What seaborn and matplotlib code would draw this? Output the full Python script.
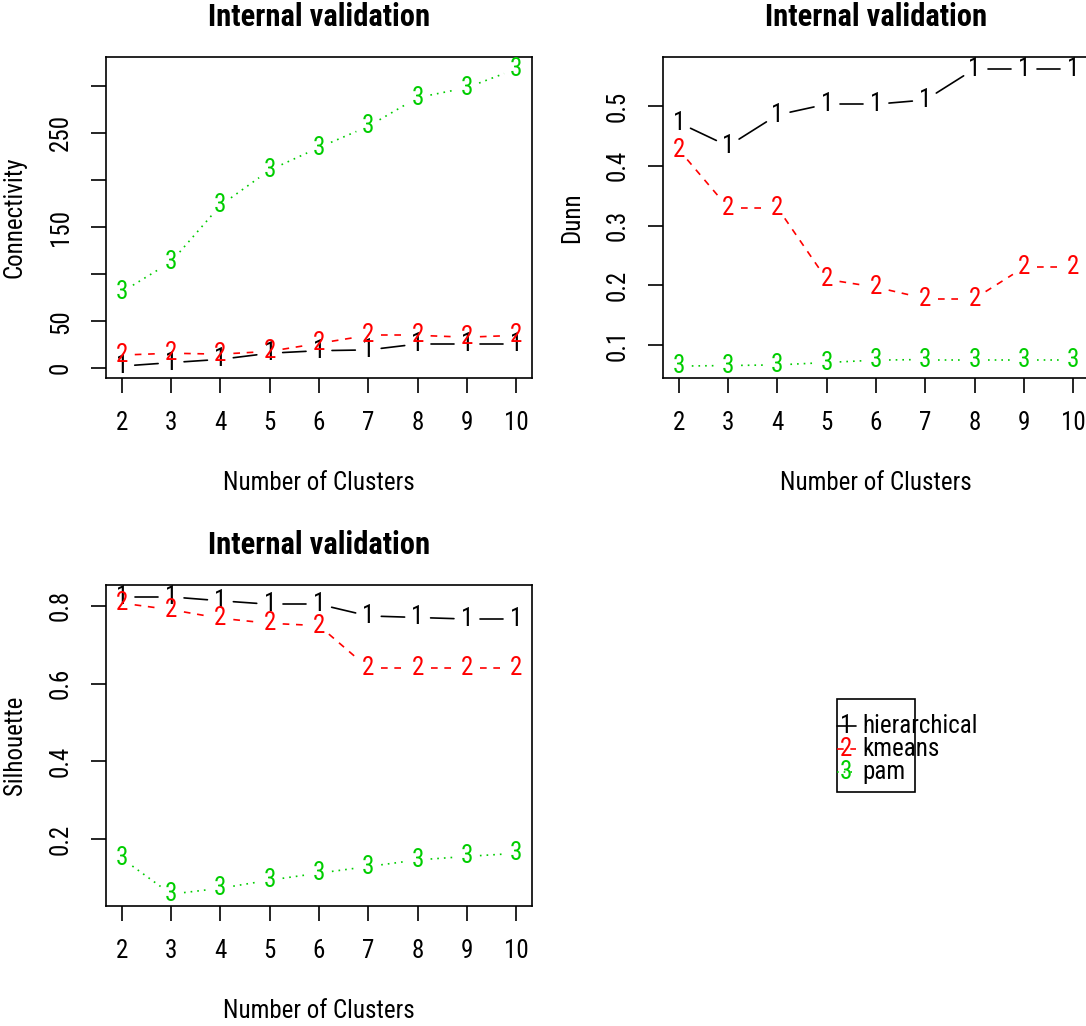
import numpy as np
import pandas as pd
import matplotlib
matplotlib.use("Agg")
import matplotlib.pyplot as plt
from matplotlib import font_manager
from matplotlib.lines import Line2D
from matplotlib.patches import Rectangle
import seaborn as sns

# number of clusters on the x axis
clusters = [2, 3, 4, 5, 6, 7, 8, 9, 10]
methods = ["hierarchical", "kmeans", "pam"]
symbols = ["1", "2", "3"]

# Connectivity
conn_hier = [2.3, 6, 9.5, 16, 18.7, 19.5, 25.8, 25.8, 25.8]
conn_km = [14, 16, 15, 18, 26.5, 35, 35, 33, 35]
conn_pam = [81, 113, 173, 210.5, 234.5, 257, 287.5, 298, 318]

# Dunn
dunn_hier = [0.472, 0.433, 0.485, 0.503, 0.503, 0.51, 0.562, 0.562, 0.562]
dunn_km = [0.427, 0.330, 0.330, 0.210, 0.197, 0.178, 0.178, 0.230, 0.230]
dunn_pam = [0.065, 0.066, 0.067, 0.071, 0.075, 0.076, 0.076, 0.076, 0.076]

# Silhouette
sil_hier = [0.823, 0.823, 0.813, 0.804, 0.804, 0.774, 0.770, 0.766, 0.766]
sil_km = [0.807, 0.790, 0.768, 0.755, 0.749, 0.640, 0.640, 0.640, 0.640]
sil_pam = [0.150, 0.058, 0.073, 0.094, 0.112, 0.129, 0.146, 0.155, 0.163]

conn_ticks = [0, 50, 100, 150, 200, 250, 300]
conn_labels = ["0", "50", "", "150", "", "250", ""]
dunn_ticks = [0.1, 0.2, 0.3, 0.4, 0.5]
dunn_labels = ["0.1", "0.2", "0.3", "0.4", "0.5"]
sil_ticks = [0.2, 0.4, 0.6, 0.8]
sil_labels = ["0.2", "0.4", "0.6", "0.8"]

colors = ["black", "#FF0000", "#00CD00"]
styles = ["-", (0, (4, 4)), (0, (1, 3))]

sns.set_style("white", {"axes.edgecolor": "black", "text.color": "black",
                        "xtick.color": "black", "ytick.color": "black",
                        "axes.labelcolor": "black"})

# R draws this in a narrow sans; use one if present, else shrink Liberation Sans
narrow = None
for fam in ["Liberation Sans Narrow", "Roboto Condensed", "Arial Narrow"]:
    try:
        font_manager.findfont(font_manager.FontProperties(family=fam), fallback_to_default=False)
        narrow = fam
        break
    except ValueError:
        pass
if narrow:
    plt.rcParams['font.family'] = [narrow, 'Liberation Sans', 'DejaVu Sans']
    FS, TFS = 18, 22
else:
    plt.rcParams['font.family'] = ['Liberation Sans', 'DejaVu Sans']
    FS, TFS = 15.5, 19.5

W, H = 1086, 1026
fig = plt.figure(figsize=(W / 100, H / 100), dpi=100)

GAP = 13  # px gap around the point symbols (R type="b")


def panel(left_px, top_px, series, ylab, ticks, labels):
    ax = fig.add_axes([left_px / W, 1 - (top_px + 321) / H, 426 / W, 321 / H])
    lo = min(min(s) for s in series)
    hi = max(max(s) for s in series)
    pad = 0.04 * (hi - lo)
    xpad = 0.04 * (max(clusters) - min(clusters))
    ax.set_xlim(min(clusters) - xpad, max(clusters) + xpad)
    ax.set_ylim(lo - pad, hi + pad)

    for vals, col, ls, sym in zip(series, colors, styles, symbols):
        pts = ax.transData.transform(np.column_stack([clusters, vals]))
        inv = ax.transData.inverted()
        rows = []
        for i in range(len(pts) - 1):
            p0, p1 = pts[i], pts[i + 1]
            f = GAP / np.hypot(*(p1 - p0))
            if f < 0.5:
                a, b = inv.transform([p0 + f * (p1 - p0), p1 - f * (p1 - p0)])
                rows.append((a[0], a[1], i))
                rows.append((b[0], b[1], i))
        seg = pd.DataFrame(rows, columns=["x", "y", "seg"])
        sns.lineplot(data=seg, x="x", y="y", units="seg", estimator=None, sort=False,
                     color=col, linestyle=ls, linewidth=1.2, ax=ax)
        for x, y in zip(clusters, vals):
            ax.text(x, y, sym, color=col, ha="center", va="center", fontsize=FS)

    ax.set_xlim(min(clusters) - xpad, max(clusters) + xpad)
    ax.set_ylim(lo - pad, hi + pad)
    ax.set_xticks(clusters)
    ax.set_xticklabels([str(c) for c in clusters])
    ax.set_yticks(ticks)
    ax.set_yticklabels(labels)
    ax.tick_params(direction="out", length=10.8, width=1.2, pad=13, labelsize=FS,
                   bottom=True, left=True)
    ax.tick_params(axis="y", labelrotation=90)
    for t in ax.get_yticklabels():
        t.set_va("center")
    for s in ax.spines.values():
        s.set_linewidth(1.2)
        s.set_color("black")
    ax.set_xlabel("Number of Clusters", fontsize=FS, labelpad=26)
    ax.set_ylabel(ylab, fontsize=FS, labelpad=16)
    ax.set_title("Internal validation", fontsize=TFS, fontweight="bold", pad=22)
    return ax


panel(106, 57, [conn_hier, conn_km, conn_pam], "Connectivity", conn_ticks, conn_labels)
panel(663, 57, [dunn_hier, dunn_km, dunn_pam], "Dunn", dunn_ticks, dunn_labels)
panel(106, 585, [sil_hier, sil_km, sil_pam], "Silhouette", sil_ticks, sil_labels)

# legend drawn R-style in the empty fourth panel
fig.add_artist(Rectangle((837 / W, 1 - 792 / H), 78 / W, 93 / H, transform=fig.transFigure,
                         fill=False, edgecolor="black", linewidth=1.2))
for k, (name, col, ls, sym) in enumerate(zip(methods, colors, styles, symbols)):
    yc = 1 - (726 + 23 * k) / H
    fig.add_artist(Line2D([837 / W, 856 / W], [yc, yc], transform=fig.transFigure,
                          color=col, linestyle=ls, linewidth=1.2))
    fig.text(846 / W, yc, sym, color=col, ha="center", va="center", fontsize=FS)
    fig.text(862 / W, yc, name, color="black", ha="left", va="center", fontsize=FS)

fig.savefig("out.png", dpi=100, facecolor="white")
